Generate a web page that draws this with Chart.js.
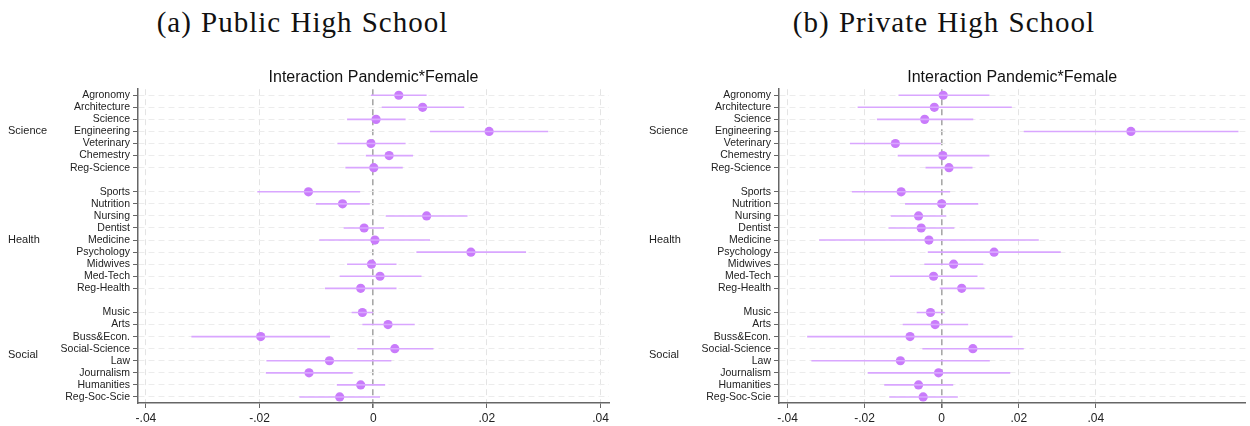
<!DOCTYPE html>
<html>
<head>
<meta charset="utf-8">
<script src="https://cdn.jsdelivr.net/npm/chart.js@4.4.1/dist/chart.umd.min.js"></script>
<style>
  body { margin: 0; background: #fff; width: 1250px; height: 426px; overflow: hidden; position: relative; }
  .cap { position: absolute; top: 6px; font-family: "Liberation Serif", "DejaVu Serif", serif; font-size: 29px; letter-spacing: 1px; word-spacing: 1px; color: #111; text-align: center; }
  .panel { position: absolute; top: 0; height: 426px; }
</style>
</head>
<body>
<div class="cap" style="left:0; width:605px;">(a) Public High School</div>
<div class="cap" style="left:641px; width:606px;">(b) Private High School</div>
<div class="panel" style="left:0; width:625px;"><canvas id="pub"></canvas></div>
<div class="panel" style="left:641px; width:609px;"><canvas id="priv"></canvas></div>
<script>
// fields by group (top to bottom)
const scienceFields = ['Agronomy', 'Architecture', 'Science', 'Engineering', 'Veterinary', 'Chemestry', 'Reg-Science'];
const healthFields = ['Sports', 'Nutrition', 'Nursing', 'Dentist', 'Medicine', 'Psychology', 'Midwives', 'Med-Tech', 'Reg-Health'];
const socialFields = ['Music', 'Arts', 'Buss&Econ.', 'Social-Science', 'Law', 'Journalism', 'Humanities', 'Reg-Soc-Scie'];
const groupNames = ['Science', 'Health', 'Social'];

// (a) public high school: coefficient and 95% CI
const publicCoef = [0.0045, 0.0087, 0.0005, 0.0204, -0.0004, 0.0028, 0.0001,
  -0.0114, -0.0054, 0.0094, -0.0016, 0.0003, 0.0172, -0.0003, 0.0012, -0.0022,
  -0.0019, 0.0026, -0.0198, 0.0038, -0.0077, -0.0113, -0.0022, -0.0059];
const publicLow = [-0.0004, 0.0015, -0.0046, 0.0100, -0.0063, -0.0013, -0.0049,
  -0.0204, -0.0101, 0.0022, -0.0052, -0.0095, 0.0076, -0.0046, -0.0059, -0.0085,
  -0.0038, -0.0019, -0.0320, -0.0028, -0.0188, -0.0189, -0.0064, -0.0130];
const publicHigh = [0.0094, 0.0160, 0.0057, 0.0308, 0.0057, 0.0070, 0.0052,
  -0.0023, -0.0006, 0.0166, 0.0019, 0.0100, 0.0269, 0.0041, 0.0085, 0.0041,
  0.0000, 0.0073, -0.0076, 0.0106, 0.0032, -0.0036, 0.0021, 0.0012];

// (b) private high school
const privateCoef = [0.0004, -0.0019, -0.0044, 0.0491, -0.0120, 0.0003, 0.0019,
  -0.0105, 0.0000, -0.0060, -0.0053, -0.0033, 0.0136, 0.0031, -0.0021, 0.0052,
  -0.0029, -0.0017, -0.0082, 0.0081, -0.0107, -0.0008, -0.0060, -0.0048];
const privateLow = [-0.0112, -0.0218, -0.0168, 0.0213, -0.0238, -0.0114, -0.0042,
  -0.0233, -0.0095, -0.0132, -0.0138, -0.0318, -0.0036, -0.0045, -0.0134, -0.0005,
  -0.0065, -0.0101, -0.0349, -0.0050, -0.0338, -0.0192, -0.0149, -0.0136];
const privateHigh = [0.0124, 0.0182, 0.0082, 0.0770, -0.0002, 0.0124, 0.0080,
  0.0022, 0.0095, 0.0012, 0.0033, 0.0252, 0.0309, 0.0108, 0.0093, 0.0111,
  0.0008, 0.0069, 0.0184, 0.0213, 0.0125, 0.0178, 0.0030, 0.0042];

const xTicks = [-0.04, -0.02, 0, 0.02, 0.04];
const xTickLabels = ['-.04', '-.02', '0', '.02', '.04'];

// row slots: one blank slot between groups
const groups = [scienceFields, healthFields, socialFields];
const rowPos = [];    // y slot for every field
const rowLabel = {};  // slot -> label
const groupPos = [];  // mean slot per group
let slot = 1;
groups.forEach(g => {
  const start = slot;
  g.forEach(f => { rowPos.push(slot); rowLabel[slot] = f; slot++; });
  groupPos.push((start + slot - 1) / 2);
  slot++;
});
const nSlots = slot - 2;

const groupLabels = {
  id: 'groupLabels',
  afterDraw(chart) {
    const ctx = chart.ctx, y = chart.scales.y;
    ctx.save();
    ctx.font = '11px "Liberation Sans", Arial, sans-serif';
    ctx.fillStyle = '#222';
    ctx.textBaseline = 'middle';
    groupNames.forEach((n, i) => ctx.fillText(n, 8, y.getPixelForValue(groupPos[i])));
    ctx.restore();
  }
};

function makeChart(id, coef, low, high, xmin, xmax, padRight) {
  const ci = [];
  coef.forEach((c, i) => {
    ci.push({ x: low[i], y: rowPos[i] }, { x: high[i], y: rowPos[i] }, { x: null, y: null });
  });
  const pts = coef.map((c, i) => ({ x: c, y: rowPos[i] }));
  return new Chart(document.getElementById(id), {
    type: 'scatter',
    data: {
      datasets: [
        { data: ci, showLine: true, spanGaps: false, pointRadius: 0, borderColor: '#d9a6ff', borderWidth: 1.6 },
        { data: pts, pointRadius: 4.6, pointBackgroundColor: '#c97bfb', pointBorderWidth: 0 }
      ]
    },
    options: {
      responsive: true,
      maintainAspectRatio: false,
      animation: false,
      layout: { padding: { top: 60, right: padRight, bottom: 0, left: 0 } },
      plugins: {
        legend: { display: false },
        tooltip: { enabled: false },
        title: {
          display: true,
          fullSize: false,
          text: 'Interaction Pandemic*Female',
          color: '#111',
          font: { family: '"Liberation Sans", Arial, sans-serif', size: 16, weight: 'normal' },
          padding: { top: 8, bottom: 2 }
        }
      },
      scales: {
        x: {
          type: 'linear',
          min: xmin,
          max: xmax,
          afterBuildTicks: s => { s.ticks = xTicks.map(v => ({ value: v })); },
          afterFit: s => { s.height = 23; },
          ticks: {
            padding: 3,
            color: '#222',
            font: { family: '"Liberation Sans", Arial, sans-serif', size: 12 },
            callback: v => xTickLabels[xTicks.indexOf(v)]
          },
          grid: {
            color: c => (c.tick && c.tick.value === 0 ? '#a8a8a8' : '#e4e4e4'),
            lineWidth: c => (c.tick && c.tick.value === 0 ? 1.6 : 1),
            tickColor: '#666',
            tickLength: 5
          },
          border: { color: '#666', width: 1.5, dash: [6, 4] }
        },
        y: {
          type: 'linear',
          reverse: true,
          min: 0.5,
          max: nSlots + 0.5,
          afterBuildTicks: s => { s.ticks = rowPos.map(v => ({ value: v })); },
          afterFit: s => { s.width = 138; },
          ticks: {
            autoSkip: false,
            padding: 3,
            color: '#222',
            font: { family: '"Liberation Sans", Arial, sans-serif', size: 10.5 },
            callback: v => rowLabel[v]
          },
          grid: { color: '#ececec', lineWidth: 1, tickColor: '#666', tickLength: 5 },
          border: { color: '#666', width: 1.5, dash: [6, 4] }
        }
      }
    },
    plugins: [groupLabels]
  });
}

makeChart('pub', publicCoef, publicLow, publicHigh, -0.0414, 0.0415, 16);
makeChart('priv', privateCoef, privateLow, privateHigh, -0.0422, 0.0788, 1);
</script>
</body>
</html>
